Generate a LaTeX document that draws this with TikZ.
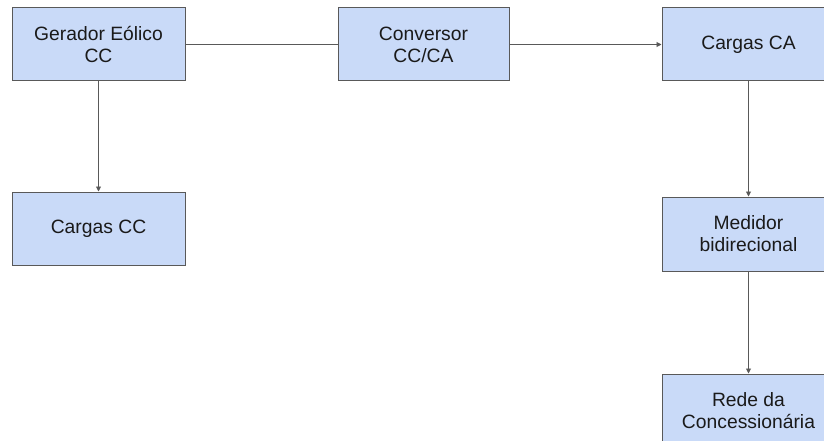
\documentclass[tikz,border=0pt]{standalone}
\usepackage{fontspec}
\setmainfont{Liberation Sans}
\usetikzlibrary{arrows.meta}
\definecolor{boxfill}{HTML}{C9DAF8}
\definecolor{edgegray}{HTML}{595959}
\definecolor{txt}{HTML}{1A1A1A}
\begin{document}
\begin{tikzpicture}[x=1pt,y=-1pt,
  block/.style={draw=edgegray, fill=boxfill, line width=1pt, minimum width=173pt,
    minimum height=73pt, align=center, text=txt, inner sep=0pt,
    font=\fontsize{19.3}{22}\selectfont},
  link/.style={draw=edgegray, line width=0.9pt},
  arrowlink/.style={link, -{Triangle[length=5pt,width=5pt]}}]
  \useasboundingbox (0,0) rectangle (824,441);
  \node[block] (gen) at (98.5,44.5) {Gerador Eólico\\CC};
  \node[block, minimum width=171pt] (conv) at (423.5,44.5) {Conversor\\CC/CA};
  \node[block] (ca) at (748.5,44.5) {Cargas CA};
  \node[block] (cc) at (98.5,228.5) {Cargas CC};
  \node[block, minimum height=74pt] (med) at (748.5,234) {Medidor\\bidirecional};
  \node[block] (rede) at (748.5,410.5) {Rede da\\Concessionária};
  \draw[link] (gen) -- (conv);
  \draw[arrowlink] (conv) -- (ca);
  \draw[arrowlink] (gen) -- (cc);
  \draw[arrowlink] (ca) -- (med);
  \draw[arrowlink] (med) -- (rede);
\end{tikzpicture}
\end{document}
